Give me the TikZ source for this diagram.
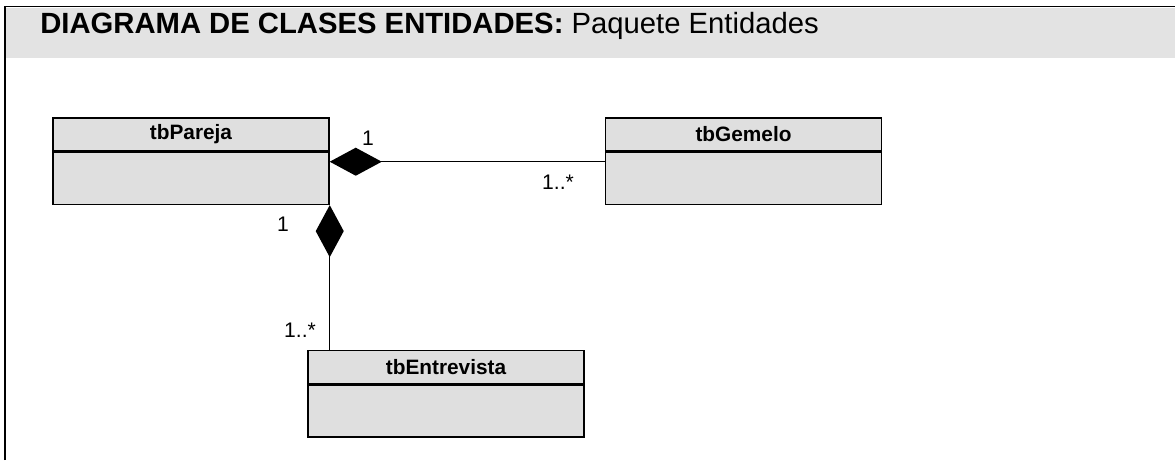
\documentclass[tikz,border=0pt]{standalone}
\usepackage{fontspec}
\setmainfont{Liberation Sans}
\usetikzlibrary{arrows.meta,positioning}
\definecolor{bandgray}{HTML}{E3E3E3}
\definecolor{boxgray}{HTML}{DFDFDF}

\begin{document}
\begin{tikzpicture}[x=0.025cm,y=-0.025cm,
  classhead/.style={draw,fill=boxgray,line width=1pt,minimum width=6.9cm,minimum height=0.825cm,inner sep=0pt,font=\fontsize{14.8}{17}\selectfont\bfseries},
  classbody/.style={draw,fill=boxgray,line width=1pt,minimum width=6.9cm,minimum height=1.3cm,inner sep=0pt},
  mult/.style={font=\fontsize{15}{18}\selectfont,inner sep=0pt},
  comp/.style={line width=1pt,{Diamond[length=1.3cm,width=0.7cm]}-}]
\useasboundingbox (0,0) rectangle (1175,460);
% Frame and title band
\fill[bandgray] (6,8) rectangle (1175,58);
\draw[line width=1.4pt] (5,460) -- (5,6.5) -- (1175,6.5);
\node[anchor=base west,inner sep=0pt,font=\fontsize{20.8}{25}\selectfont] (titulo) at (40,33) {\textbf{DIAGRAMA DE CLASES ENTIDADES:} Paquete Entidades};
% Classes
\node[classhead] (pareja) at (191,134.5) {tbPareja};
\node[classbody,below=0pt of pareja] (pareja-body) {};
\node[classhead] (gemelo) at (743.5,134.5) {tbGemelo};
\node[classbody,below=0pt of gemelo] (gemelo-body) {};
\node[classhead] (entrevista) at (446,367) {tbEntrevista};
\node[classbody,below=0pt of entrevista] (entrevista-body) {};
% Compositions
\draw[comp] ([yshift=-0.25cm]pareja-body.north east) -- ([yshift=-0.25cm]gemelo-body.north west);
\draw[comp] (pareja-body.south east) -- (pareja-body.south east |- entrevista.north);
% Multiplicities
\node[mult] (m1) at (368,138) {1};
\node[mult] (m2) at (558,182) {1..*};
\node[mult] (m3) at (283,224) {1};
\node[mult] (m4) at (300,330) {1..*};
\end{tikzpicture}
\end{document}
